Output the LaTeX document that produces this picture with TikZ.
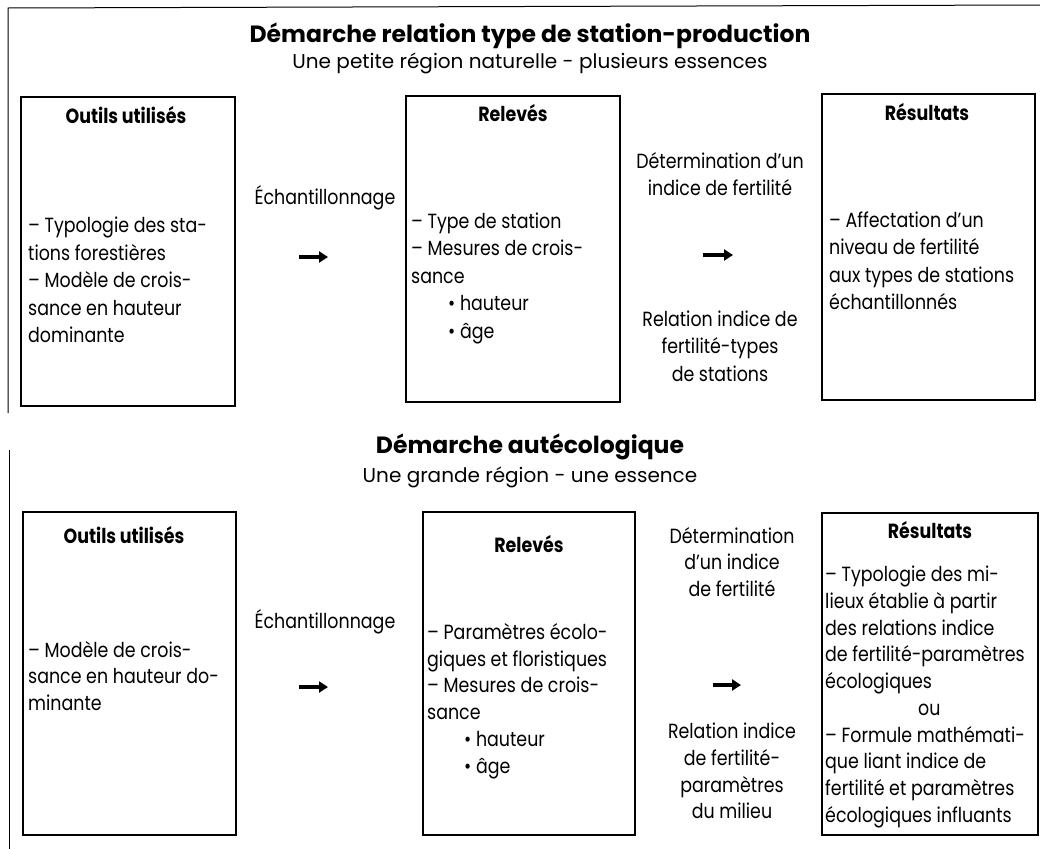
\documentclass[tikz,border=0pt]{standalone}
\usepackage{fontspec}
\setmainfont{Poppins}[FakeStretch=0.85]
\newfontfamily\ttlfont{Poppins}[FakeStretch=1.0]
\usetikzlibrary{arrows.meta}
\begin{document}
\begin{tikzpicture}[x=1pt,y=-1pt,
  box/.style={draw, line width=1.2pt, inner sep=0pt},
  hd/.style={font=\fontsize{20.5}{24}\selectfont\bfseries, inner sep=0pt},
  bodyA/.style={font=\fontsize{20.5}{27.5}\selectfont, align=left, inner sep=0pt, anchor=west},
  bodyB/.style={font=\fontsize{20.5}{26.7}\selectfont, align=left, inner sep=0pt, anchor=west},
  midA/.style={font=\fontsize{20.5}{27.5}\selectfont, align=center, inner sep=0pt},
  midB/.style={font=\fontsize{20.5}{26.7}\selectfont, align=center, inner sep=0pt},
  ttl/.style={font=\ttlfont\fontsize{23.5}{28}\selectfont\bfseries, inner sep=0pt},
  sub/.style={font=\ttlfont\fontsize{20}{24}\selectfont, inner sep=0pt},
  arr/.style={line width=3.5pt, -{Triangle[length=9pt,width=11pt]}},
  frame/.style={line width=1pt}]
\useasboundingbox (0,0) rectangle (1040,849);
% frame
\coordinate (f1) at (8,8);
\coordinate (f2) at (1040,5);
\coordinate (f3) at (8,413);
\coordinate (f4) at (9,450);
\coordinate (f5) at (9,849);
\draw[frame] (f3) -- (f1) -- (f2);
\draw[frame] (f4) -- (f5);
% ---------- upper ----------
\node[ttl] (t1) at (530,36) {Démarche relation type de station-production};
\node[sub] (s1) at (530,63) {Une petite région naturelle - plusieurs essences};
\node[box, minimum width=214pt, minimum height=309pt] (o1) at (128,251.5) {};
\node[box, minimum width=214pt, minimum height=306pt] (r1) at (513,249) {};
\node[box, minimum width=213pt, minimum height=306pt] (x1) at (928.5,247) {};
\node[hd] (o1h) at (126,115) {Outils utilisés};
\node[hd] (r1h) at (513,113) {Relevés};
\node[hd] (x1h) at (927,112) {Résultats};
\node[bodyA] (o1b) at (28,280) {– Typologie des sta-\\tions forestières\\– Modèle de crois-\\sance en hauteur\\dominante};
\node[bodyA] (r1b) at (411,278) {– Type de station\\– Mesures de crois-\\sance\\\hspace*{37pt}\textbullet\ hauteur\\\hspace*{37pt}\textbullet\ âge};
\node[bodyA] (x1b) at (829,261) {– Affectation d’un\\niveau de fertilité\\aux types de stations\\échantillonnés};
\node[midA] (e1) at (325,198) {Échantillonnage};
\node[midA] (d1) at (720,174) {Détermination d’un\\indice de fertilité};
\node[midA] (l1) at (720,346) {Relation indice de\\fertilité-types\\de stations};
\coordinate (a1s) at (299,257);
\coordinate (a1e) at (328,257);
\coordinate (a2s) at (703,255);
\coordinate (a2e) at (733,255);
\draw[arr] (a1s) -- (a1e);
\draw[arr] (a2s) -- (a2e);
% ---------- lower ----------
\node[ttl] (t2) at (530,447) {Démarche autécologique};
\node[sub] (s2) at (530,477) {Une grande région - une essence};
\node[box, minimum width=213pt, minimum height=323pt] (o2) at (129.5,673.5) {};
\node[box, minimum width=212pt, minimum height=323pt] (r2) at (529,673.5) {};
\node[box, minimum width=216pt, minimum height=322pt] (x2) at (930,674) {};
\node[hd] (o2h) at (124,535) {Outils utilisés};
\node[hd] (r2h) at (529,544) {Relevés};
\node[hd] (x2h) at (930,530) {Résultats};
\node[bodyB] (o2b) at (28,676) {– Modèle de crois-\\sance en hauteur do-\\minante};
\node[bodyB] (r2b) at (427,701) {– Paramètres écolo-\\giques et floristiques\\– Mesures de crois-\\sance\\\hspace*{37pt}\textbullet\ hauteur\\\hspace*{37pt}\textbullet\ âge};
\node[bodyB] (x2b) at (825,697) {– Typologie des mi-\\lieux établie à partir\\des relations indice\\de fertilité-paramètres\\écologiques\\\hspace*{93pt}ou\\– Formule mathémati-\\que liant indice de\\fertilité et paramètres\\écologiques influants};
\node[midB] (e2) at (325,622) {Échantillonnage};
\node[midB] (d2) at (732,562) {Détermination\\d’un indice\\de fertilité};
\node[midB] (l2) at (732,771) {Relation indice\\de fertilité-\\paramètres\\du milieu};
\coordinate (a3s) at (299,687);
\coordinate (a3e) at (328,687);
\coordinate (a4s) at (713,685);
\coordinate (a4e) at (741,685);
\draw[arr] (a3s) -- (a3e);
\draw[arr] (a4s) -- (a4e);
\end{tikzpicture}
\end{document}
